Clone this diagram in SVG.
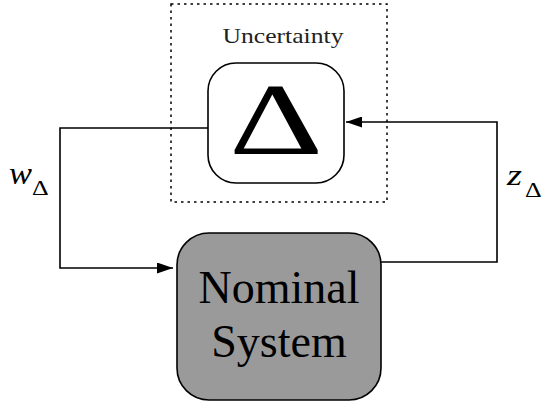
<svg xmlns="http://www.w3.org/2000/svg" width="545" height="402" viewBox="0 0 545 402">
<defs>
<style>
.ln{fill:none;stroke:#000;stroke-width:1.6}
</style>
<marker id="ah" viewBox="0 0 16 11" refX="16" refY="5.5" markerWidth="16" markerHeight="11" markerUnits="userSpaceOnUse" orient="auto">
<path d="M0,0 L16,5.5 L0,11 Z" fill="#000"/>
</marker>
</defs>
<rect width="545" height="402" fill="#fff"/>
<g id="uncertainty-frame" font-family="'Liberation Serif', serif">
<rect x="171" y="4" width="216" height="198" fill="none" stroke="#000" stroke-width="1.5" stroke-dasharray="2.5,4"/>
<text x="283" y="43" font-size="22" text-anchor="middle" textLength="121" lengthAdjust="spacingAndGlyphs" fill="#222">Uncertainty</text>
</g>
<g id="connectors">
<polyline class="ln" points="208,128 60,128 60,268 173,268" marker-end="url(#ah)"/>
<polyline class="ln" points="381,262 497,262 497,122 346,122" marker-end="url(#ah)"/>
</g>
<g id="delta-block" font-family="'Liberation Serif', serif">
<rect x="208" y="63" width="136" height="120" rx="28" ry="28" fill="#fff" stroke="#000" stroke-width="1.6"/>
<text x="0" y="0" font-size="101" text-anchor="middle" transform="translate(276,154) scale(1.45,1)">Δ</text>
</g>
<g id="nominal-system" font-family="'Liberation Serif', serif">
<rect x="177" y="233" width="204" height="167" rx="32" ry="32" fill="#9a9a9a" stroke="#000" stroke-width="1.6"/>
<text x="279" y="303" font-size="46" text-anchor="middle">Nominal</text>
<text x="279" y="357" font-size="46" text-anchor="middle">System</text>
</g>
<g id="label-w" font-family="'Liberation Serif', serif">
<text x="9" y="184" font-size="31" font-style="italic" textLength="23" lengthAdjust="spacingAndGlyphs">w</text>
<text x="0" y="0" font-size="20" transform="translate(32,195) scale(1.3,1)">Δ</text>
</g>
<g id="label-z" font-family="'Liberation Serif', serif">
<text x="507" y="185" font-size="30" font-style="italic" textLength="15" lengthAdjust="spacingAndGlyphs">z</text>
<text x="0" y="0" font-size="20" transform="translate(525,197) scale(1.3,1)">Δ</text>
</g>
</svg>
